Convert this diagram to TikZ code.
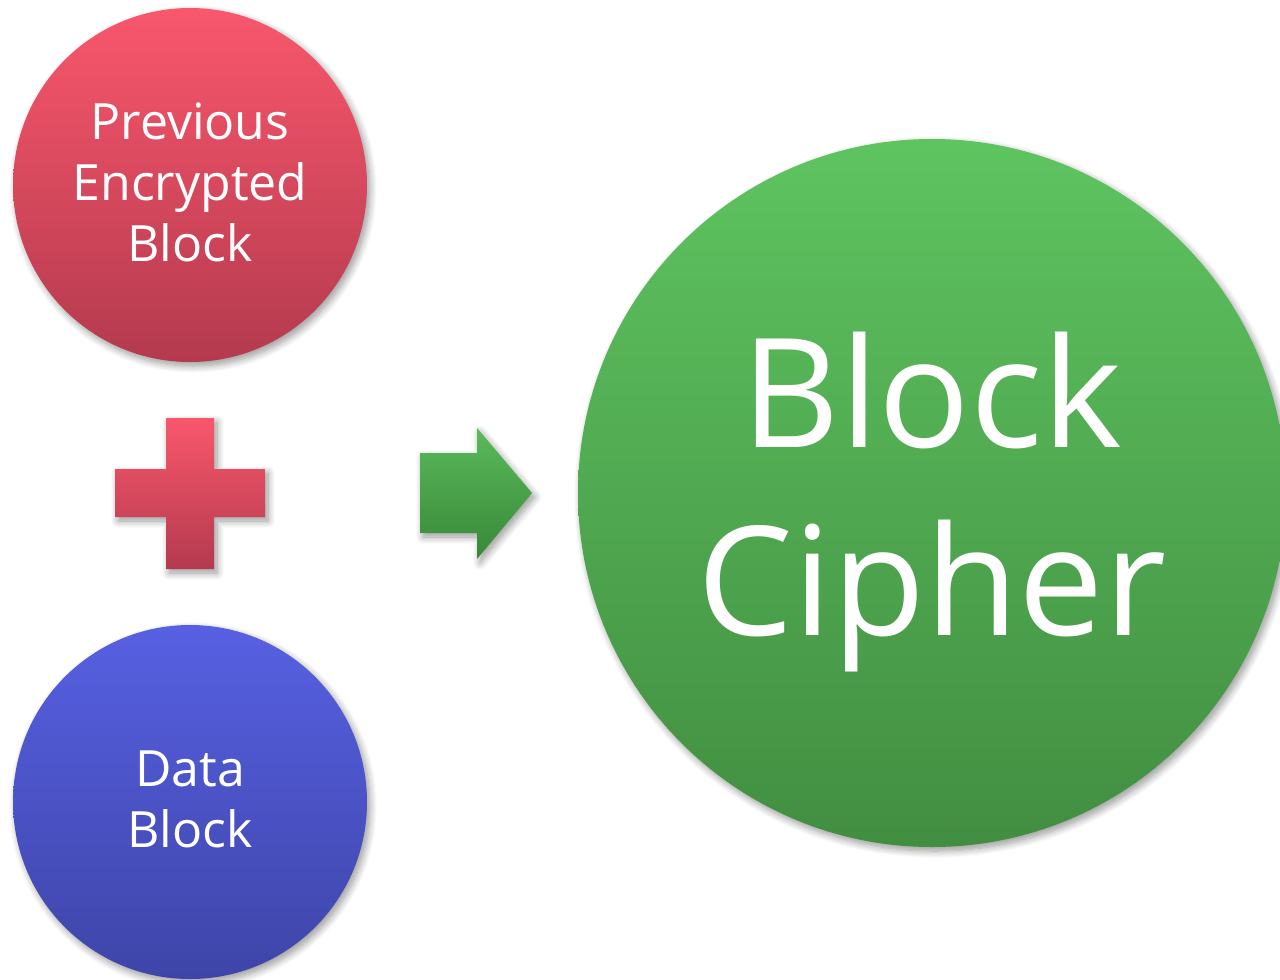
\documentclass[tikz,border=0pt]{standalone}
\usepackage{fontspec}
\setmainfont{Open Sans}
\usetikzlibrary{shadows.blur}

\definecolor{redtop}{RGB}{249,87,108}
\definecolor{redbot}{RGB}{180,58,78}
\definecolor{bluetop}{RGB}{87,96,226}
\definecolor{bluebot}{RGB}{62,69,168}
\definecolor{greentop}{RGB}{94,196,96}
\definecolor{greenbot}{RGB}{66,142,65}

\begin{document}
\begin{tikzpicture}[x=1pt,y=-1pt,
  softshadow/.style={blur shadow={shadow xshift=3pt,shadow yshift=-4pt,
      shadow blur radius=7pt,shadow blur steps=10,shadow opacity=40}},
  bubble/.style={circle,minimum size=#1,inner sep=0pt,softshadow},
  caption/.style={text=white,align=center,inner sep=0pt},
  redfill/.style={top color=redtop,bottom color=redbot},
  bluefill/.style={top color=bluetop,bottom color=bluebot},
  greenfill/.style={top color=greentop,bottom color=greenbot},
  smalltext/.style={font=\fontsize{50}{61}\selectfont},
  bigtext/.style={font=\fontsize{152}{188}\selectfont},
]
\useasboundingbox (0,0) rectangle (1280,980);

% input blocks
\node[bubble=354pt,redfill] (prev) at (190,185) {};
\node[caption,smalltext] (prevlabel) at (190,182)
  {Previous\\Encrypted\\Block};
\node[bubble=354pt,bluefill] (data) at (190,802) {};
\node[caption,smalltext] (datalabel) at (190,799) {Data\\Block};

% plus sign between the inputs
\path[redfill,softshadow]
  (166,418) -- (214,418) -- (214,469) -- (265,469) -- (265,517)
  -- (214,517) -- (214,569) -- (166,569) -- (166,517) -- (115,517)
  -- (115,469) -- (166,469) -- cycle;
\coordinate (plus) at (190,493);

% arrow towards the cipher
\path[top color=greentop!95!black,bottom color=greenbot!105,softshadow]
  (420,453) -- (477,453) -- (477,428) -- (532,493) -- (477,559)
  -- (477,533) -- (420,533) -- cycle;
\coordinate (arrowtip) at (532,493);

% block cipher
\node[bubble=708pt,greenfill] (cipher) at (932,493) {};
\node[caption,bigtext] (cipherlabel) at (932,502) {Block\\Cipher};
\end{tikzpicture}
\end{document}
